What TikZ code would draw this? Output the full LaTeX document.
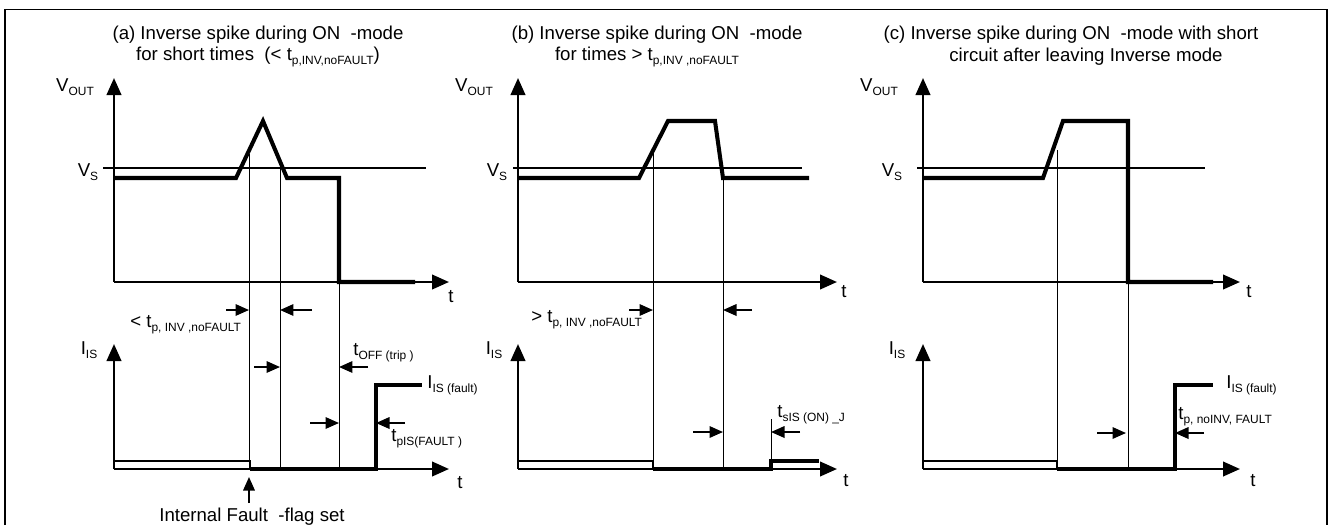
\documentclass[tikz,border=0pt]{standalone}
\usepackage{fontspec}
\setmainfont{Liberation Sans}
\usetikzlibrary{arrows.meta}
\newcommand{\lowsub}[1]{\raisebox{-0.4ex}{\fontsize{6.8}{7}\selectfont #1}}
\tikzset{
    every node/.append style={font=\fontsize{10.6}{12}\selectfont,inner sep=0pt},
    axis/.style={line width=1.4pt,-{Triangle[length=0.34cm,width=0.29cm]}},
    wave/.style={line width=2.3pt,line join=miter},
    guide/.style={line width=0.5pt},
    vsline/.style={line width=0.7pt},
    lowrect/.style={line width=1.4pt},
    dimarr/.style={line width=1pt,-{Triangle[length=0.27cm,width=0.23cm]}},
    lbl/.style={anchor=west}
}

\begin{document}
\begin{tikzpicture}[x=0.02cm,y=-0.02cm]
    \useasboundingbox (0,0) rectangle (1330,525);
    \draw[line width=1pt] (5,525) -- (5,9.5) -- (1327,9.5) -- (1327,525);

    % panel (a)
    \node (titA1) at (258,35) {(a) Inverse spike during ON \ -mode};
    \node (titA2) at (258,57) {for short times \ (< t\lowsub{p,INV,noFAULT})};
    \node (voutA) at (75,87)  {V\lowsub{OUT}};
    \node (vsA)   at (88,172) {V\lowsub{S}};
    \node (iisA)  at (89,350) {I\lowsub{IS}};
    \node (tA1)   at (451,297) {t};
    \node (tA2)   at (460,483) {t};
    \draw[axis] (114,282) -- (114,78);
    \draw[axis] (114,282) -- (449,282);
    \draw[axis] (114,469) -- (114,344);
    \draw[axis] (114,469) -- (449,469);
    \draw[vsline] (103,168) -- (426,168);
    \draw[guide] (249,154) -- (249,469);
    \draw[guide] (280,165) -- (280,469);
    \draw[guide] (339,282) -- (339,469);
    \draw[wave] (114,178) -- (236,178) -- (263,121) -- (287,178) -- (339,178) -- (339,282) -- (415,282);
    \draw[lowrect] (114,461) -- (250,461) -- (250,469);
    \draw[wave] (250,469) -- (376,469) -- (376,385) -- (422,385);
    \node[lbl] (faultA) at (427,385) {I\lowsub{IS (fault)}};
    \draw[dimarr] (226,310) -- (249,310);
    \draw[dimarr] (312,310) -- (280,310);
    \node[lbl] (tinvA) at (130,325) {< t\lowsub{p, INV ,noFAULT}};
    \draw[dimarr] (254,367) -- (280,367);
    \draw[dimarr] (368,367) -- (339,367);
    \node[lbl] (toffA) at (353,353) {t\lowsub{OFF (trip )}};
    \draw[dimarr] (310,423) -- (339,423);
    \draw[dimarr] (405,423) -- (376,423);
    \node[lbl] (tpisA) at (391,439) {t\lowsub{pIS(FAULT )}};
    \draw[dimarr] (249,503) -- (249,477);
    \node (flagA) at (252,517) {Internal Fault \ -flag set};

    % panel (b)
    \node (titB1) at (657,35) {(b) Inverse spike during ON \ -mode};
    \node (titB2) at (647,57) {for times > t\lowsub{p,INV ,noFAULT}};
    \node (voutB) at (474,87)  {V\lowsub{OUT}};
    \node (vsB)   at (497,172) {V\lowsub{S}};
    \node (iisB)  at (494,350) {I\lowsub{IS}};
    \node (tB1)   at (844,292) {t};
    \node (tB2)   at (846,481) {t};
    \draw[axis] (518,282) -- (518,78);
    \draw[axis] (518,282) -- (837,282);
    \draw[axis] (518,469) -- (518,344);
    \draw[axis] (518,469) -- (837,469);
    \draw[vsline] (513,168) -- (802,168);
    \draw[guide] (653,153) -- (653,469);
    \draw[guide] (723,178) -- (723,469);
    \draw[guide] (771,419) -- (771,461);
    \draw[wave] (518,178) -- (639,178) -- (668,121) -- (715,121) -- (723,178) -- (809,178);
    \draw[lowrect] (518,461) -- (653,461) -- (653,469);
    \draw[wave] (653,469) -- (771,469) -- (771,461) -- (819,461);
    \draw[dimarr] (629,310) -- (653,310);
    \draw[dimarr] (752,310) -- (723,310);
    \node[lbl] (tinvB) at (531,320) {> t\lowsub{p, INV ,noFAULT}};
    \draw[dimarr] (693,432) -- (723,432);
    \draw[dimarr] (800,432) -- (771,432);
    \node[lbl] (tsisB) at (777,415) {t\lowsub{sIS (ON) \_J}};

    % panel (c)
    \node (titC1) at (1071,35) {(c) Inverse spike during ON \ -mode with short};
    \node (titC2) at (1086,57) {circuit after leaving Inverse mode};
    \node (voutC) at (879,87)  {V\lowsub{OUT}};
    \node (vsC)   at (892,172) {V\lowsub{S}};
    \node (iisC)  at (897,350) {I\lowsub{IS}};
    \node (tC1)   at (1249,292) {t};
    \node (tC2)   at (1253,481) {t};
    \draw[axis] (923,282) -- (923,78);
    \draw[axis] (923,282) -- (1240,282);
    \draw[axis] (923,469) -- (923,344);
    \draw[axis] (923,469) -- (1240,469);
    \draw[vsline] (917,168) -- (1205,168);
    \draw[guide] (1057,150) -- (1057,469);
    \draw[guide] (1128,282) -- (1128,469);
    \draw[wave] (923,178) -- (1043,178) -- (1063,121) -- (1128,121) -- (1128,282) -- (1213,282);
    \draw[lowrect] (923,461) -- (1057,461) -- (1057,469);
    \draw[wave] (1057,469) -- (1175,469) -- (1175,385) -- (1213,385);
    \node[lbl] (faultC) at (1226,385) {I\lowsub{IS (fault)}};
    \draw[dimarr] (1097,433) -- (1126,433);
    \draw[dimarr] (1204,433) -- (1175,433);
    \node[lbl] (tnoinvC) at (1178,417) {t\lowsub{p, noINV, FAULT}};
\end{tikzpicture}
\end{document}
